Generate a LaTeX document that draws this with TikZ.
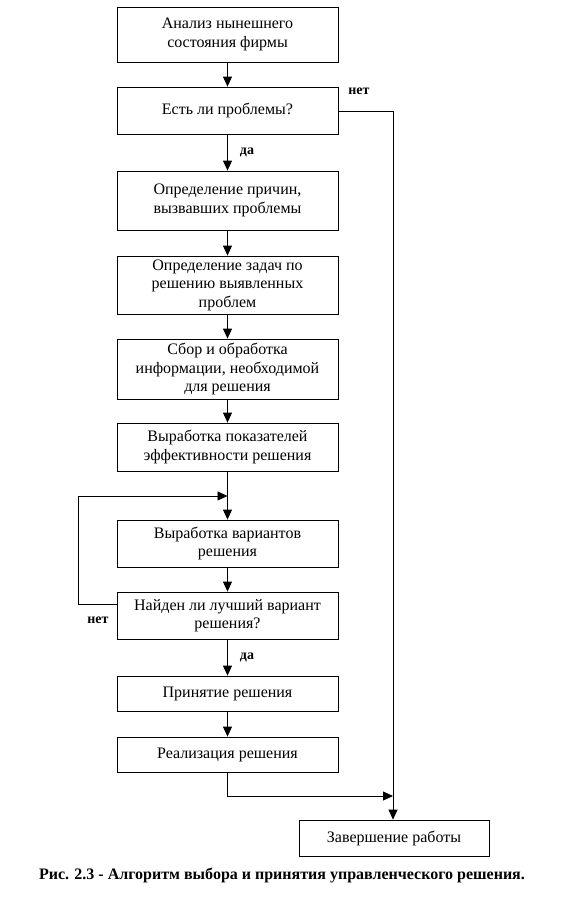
\documentclass[tikz,border=0pt]{standalone}
\usepackage{fontspec}
\setmainfont{Liberation Serif}
\usetikzlibrary{arrows.meta}
\begin{document}
\begin{tikzpicture}[x=1pt,y=-1pt,
  box/.style={draw,line width=0.8pt,minimum width=221pt,align=center,inner sep=0pt,
    font=\fontsize{16}{18.5}\selectfont},
  conn/.style={line width=0.8pt,-{Triangle[length=10pt,width=9pt]}},
  line/.style={line width=0.8pt},
  lbl/.style={font=\fontsize{14}{16}\bfseries\selectfont,inner sep=0pt}]
\useasboundingbox (0,0) rectangle (568,910);
\node[box,minimum height=55pt] (b1) at (227.5,34.5) {Анализ нынешнего\\состояния фирмы};
\node[box,minimum height=47pt] (b2) at (227.5,110.5) {Есть ли проблемы?};
\node[box,minimum height=59pt] (b3) at (227.5,200.5) {Определение причин,\\вызвавших проблемы};
\node[box,minimum height=58pt] (b4) at (227.5,285) {Определение задач по\\решению выявленных\\проблем};
\node[box,minimum height=60pt] (b5) at (227.5,369) {Сбор и обработка\\информации, необходимой\\для решения};
\node[box,minimum height=48pt] (b6) at (227.5,447) {Выработка показателей\\эффективности решения};
\node[box,minimum height=47pt] (b7) at (227.5,543.5) {Выработка вариантов\\решения};
\node[box,minimum height=47pt] (b8) at (227.5,615.5) {Найден ли лучший вариант\\решения?};
\node[box,minimum height=35pt] (b9) at (227.5,693.5) {Принятие решения};
\node[box,minimum height=35pt] (b10) at (227.5,754.5) {Реализация решения};
\node[box,minimum width=190pt,minimum height=36pt] (b11) at (394,838) {Завершение работы};

\coordinate (loopL) at (78,496);
\coordinate (loopJ) at (227.5,496);
\coordinate (endJ) at (393,796);
\coordinate (noR) at (393,111);

\draw[conn] (b1) -- (b2);
\draw[conn] (b2) -- (b3);
\draw[conn] (b3) -- (b4);
\draw[conn] (b4) -- (b5);
\draw[conn] (b5) -- (b6);
\draw[line] (b6.south) -- (loopJ);
\draw[conn] (loopJ) -- (b7);
\draw[conn] (b7) -- (b8);
\draw[conn] (b8) -- (b9);
\draw[conn] (b9) -- (b10);
\draw[conn] (b8.west |- 0,604) -| (loopL) -- (loopJ);
\draw[conn] (b10.south) |- (endJ);
\draw[conn] (b2.east |- noR) -- (noR) -- (b11.north -| noR);

\node[lbl] (no1) at (359,91) {нет};
\node[lbl] (yes1) at (247,152) {да};
\node[lbl] (no2) at (98,620) {нет};
\node[lbl] (yes2) at (247,657) {да};
\node[font=\fontsize{16}{18}\bfseries\selectfont,inner sep=0pt] (cap) at (282,875)
  {Рис. 2.3 - Алгоритм выбора и принятия управленческого решения.};
\end{tikzpicture}
\end{document}
